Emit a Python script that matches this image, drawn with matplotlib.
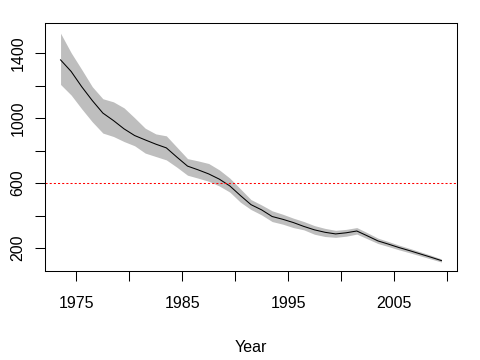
import numpy as np
import matplotlib
matplotlib.use("Agg")
import matplotlib.pyplot as plt

plt.rcParams['font.family'] = ['Liberation Sans', 'DejaVu Sans']

# mid-year estimates
years = np.arange(1973.5, 2010, 1.0)
est = [1358, 1287, 1193, 1108, 1031, 985, 934, 893, 866, 840, 817, 760, 705,
       682, 657, 625, 583, 524, 468, 436, 395, 378, 358, 334, 313, 298, 288,
       295, 306, 276, 245, 225, 204, 185, 165, 145, 124]
upper = [1522, 1402, 1299, 1193, 1119, 1100, 1063, 1002, 938, 903, 891, 821, 751,
         737, 721, 682, 631, 565, 499, 466, 430, 409, 385, 364, 339, 322, 310,
         316, 327, 295, 262, 241, 219, 199, 178, 157, 134]
lower = [1207, 1142, 1057, 977, 908, 887, 856, 830, 785, 764, 743, 698, 649,
         631, 612, 583, 545, 483, 438, 405, 364, 348, 327, 313, 286, 272, 267,
         274, 287, 258, 229, 210, 190, 172, 153, 134, 115]
ref_level = 600

xticks = [1975, 1980, 1985, 1990, 1995, 2000, 2005, 2010]
xlabels = ['1975', '', '1985', '', '1995', '', '2005', '']
yticks = [200, 400, 600, 800, 1000, 1200, 1400]
ylabels = ['200', '', '600', '', '1000', '', '1400']

fs = 11.5

fig = plt.figure(figsize=(4.8, 3.6), dpi=100)
ax = fig.add_axes([0.0944, 0.2472, 0.857, 0.689])

ax.fill_between(years, lower, upper, color='#bebebe', lw=0)
ax.plot(years, est, color='black', lw=0.75)
ax.axhline(ref_level, color='red', lw=0.75, ls=(0, (2, 2)))

ax.set_xlim(1972.06, 2010.94)
ax.set_ylim(60, 1585)
ax.set_xticks(xticks)
ax.set_xticklabels(xlabels)
ax.set_yticks(yticks)
ax.set_yticklabels(ylabels, rotation=90, va='center')

for s in ax.spines.values():
    s.set_linewidth(0.75)
ax.tick_params(direction='out', length=7.2, width=0.75, labelsize=fs)
ax.tick_params(axis='x', pad=11)
ax.tick_params(axis='y', pad=7.2)
ax.set_xlabel('Year', fontsize=fs, labelpad=21)

fig.savefig('out.png', dpi=100)
